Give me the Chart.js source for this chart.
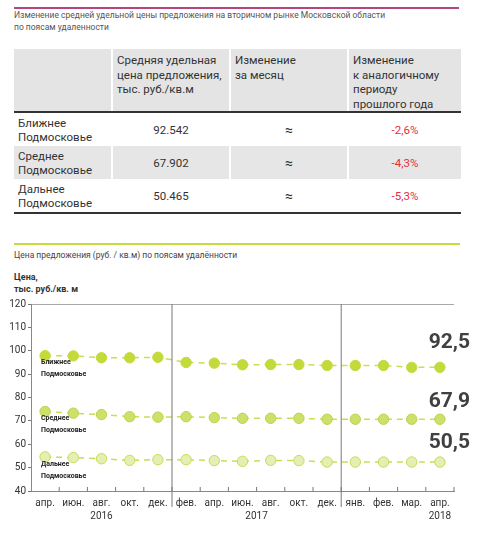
<!DOCTYPE html>
<html>
<head>
<meta charset="utf-8">
<script src="https://cdn.jsdelivr.net/npm/chart.js@4"></script>
<style>
  body { margin:0; width:479px; height:535px; background:#fff; font-family:Roboto, "Noto Sans", sans-serif; position:relative; overflow:hidden; }
  .abs { position:absolute; }
  #topline { left:14px; top:7px; width:445px; height:2px; background:#b5457f; }
  #title { left:14px; top:9px; font-size:8.5px; line-height:12px; color:#555; }
  table { position:absolute; left:14px; top:49px; width:447px; border-collapse:collapse; font-size:11.5px; color:#333; }
  th { background:#e4e4e4; font-weight:normal; text-align:left; vertical-align:top; padding:4px 4px 0 4px; height:57px; line-height:14.5px; border-left:2px solid #fff; border-bottom:2px solid #333; }
  th:first-child { border-left:none; }
  td { height:33px; padding:0 4px; line-height:14px; text-align:center; border-left:2px solid #fff; }
  td:first-child { text-align:left; border-left:none; }
  td.approx { font-size:14px; }
  tr.g td { background:#e6e6e6; }
  tr.last td { border-bottom:2px solid #333; }
  .red { color:#e0303e; }
  #greenline { left:14px; top:243px; width:446px; height:2px; background:#c6dc3c; }
  #sub { left:14px; top:250px; font-size:8.5px; color:#444; }
  #ylab { left:14px; top:271px; font-size:9px; line-height:12px; font-weight:bold; color:#333; }
  #wrap { position:absolute; left:0; top:296px; width:479px; height:239px; }
</style>
</head>
<body>
<div class="abs" id="topline"></div>
<div class="abs" id="title">Изменение средней удельной цены предложения на вторичном рынке Московской области<br>по поясам удаленности</div>
<table>
  <tr><th style="width:89px"></th><th style="width:108px">Средняя удельная<br>цена предложения,<br>тыс. руб./кв.м</th><th style="width:108px">Изменение<br>за месяц</th><th>Изменение<br>к аналогичному<br>периоду<br>прошлого года</th></tr>
  <tr><td>Ближнее<br>Подмосковье</td><td>92.542</td><td class="approx">≈</td><td class="red">-2,6%</td></tr>
  <tr class="g"><td>Среднее<br>Подмосковье</td><td>67.902</td><td class="approx">≈</td><td class="red">-4,3%</td></tr>
  <tr class="last"><td>Дальнее<br>Подмосковье</td><td>50.465</td><td class="approx">≈</td><td class="red">-5,3%</td></tr>
</table>
<div class="abs" id="greenline"></div>
<div class="abs" id="sub">Цена предложения (руб. / кв.м) по поясам удалённости</div>
<div class="abs" id="ylab">Цена,<br>тыс. руб./кв. м</div>
<div id="wrap"><canvas id="chart"></canvas></div>
<script>
// months, Apr 2016 .. Apr 2018
var months = ["апр.","июн.","авг.","окт.","дек.","фев.","апр.","июн.","авг.","окт.","дек.","янв.","фев.","мар.","апр."];
var years = [["2016", 2], ["2017", 7.5], ["2018", 14]];
var yearBreaks = [4.5, 10.5];

var nearVals = [97.9, 97.8, 97.0, 97.0, 97.2, 95.0, 94.7, 94.0, 94.1, 94.1, 93.7, 93.7, 93.7, 92.9, 92.9];
var midVals  = [74.0, 73.3, 72.7, 71.8, 71.6, 71.8, 71.4, 71.1, 71.1, 71.1, 70.7, 70.7, 70.7, 70.7, 70.7];
var farVals  = [54.6, 54.3, 53.8, 53.1, 53.4, 53.4, 53.0, 52.7, 53.1, 53.0, 52.4, 52.4, 52.4, 52.4, 52.4];

var zoneNames = [["Ближнее", "Подмосковье"], ["Среднее", "Подмосковье"], ["Дальнее", "Подмосковье"]];
var lastLabels = ["92,5", "67,9", "50,5"];

var decor = {
  id: 'decor',
  afterDraw: function(chart) {
    var c = chart.ctx, xs = chart.scales.x, ys = chart.scales.y, a = chart.chartArea;
    c.save();
    // small inner ticks on the x axis
    c.strokeStyle = '#777'; c.lineWidth = 1;
    for (var i = 0; i < months.length; i++) {
      var px = (xs.getPixelForValue(i) + xs.getPixelForValue(i + 1)) / 2;
      c.beginPath(); c.moveTo(px, a.bottom); c.lineTo(px, a.bottom - 4); c.stroke();
    }
    // year separators
    yearBreaks.forEach(function(b) {
      var px = (xs.getPixelForValue(Math.floor(b)) + xs.getPixelForValue(Math.ceil(b))) / 2;
      c.beginPath(); c.moveTo(px, a.top); c.lineTo(px, a.bottom + 16); c.stroke();
    });
    // years
    c.fillStyle = '#333'; c.font = '10px Roboto'; c.textAlign = 'center'; c.textBaseline = 'middle';
    years.forEach(function(y) { c.fillText(y[0], xs.getPixelForValue(y[1]), a.bottom + 25); });
    // zone names
    c.font = 'bold 7px Roboto'; c.textAlign = 'left'; c.fillStyle = '#222';
    var firsts = [nearVals[0], midVals[0], farVals[0]];
    firsts.forEach(function(v, k) {
      var py = ys.getPixelForValue(v);
      c.fillText(zoneNames[k][0], a.left + 10, py + 7);
      c.fillText(zoneNames[k][1], a.left + 10, py + 19);
    });
    // last values
    c.font = 'bold 21px Roboto'; c.textAlign = 'right'; c.fillStyle = '#404040';
    var lasts = [nearVals[14], midVals[14], farVals[14]];
    var offs = [-25, -17, -19];
    lasts.forEach(function(v, k) {
      c.fillText(lastLabels[k], 470, ys.getPixelForValue(v) + offs[k]);
    });
    c.restore();
  }
};

function series(vals, fill, border) {
  return {
    data: vals,
    borderColor: '#c9dd55',
    borderWidth: 1.5,
    borderDash: [6, 5],
    pointRadius: 5.2,
    pointBackgroundColor: fill,
    pointBorderColor: border,
    pointBorderWidth: 1,
    tension: 0
  };
}

new Chart(document.getElementById('chart'), {
  type: 'line',
  data: {
    labels: months,
    datasets: [
      series(nearVals, '#c4da3b', '#c4da3b'),
      series(midVals, '#cde06a', '#bcd24a'),
      series(farVals, '#e4efb2', '#c6db5a')
    ]
  },
  options: {
    responsive: true,
    maintainAspectRatio: false,
    animation: false,
    layout: { padding: { top: 8, right: 25, left: 0, bottom: 0 } },
    plugins: { legend: { display: false }, tooltip: { enabled: false } },
    scales: {
      x: {
        offset: true,
        grid: { display: true, drawOnChartArea: false, drawTicks: false },
        border: { display: true, color: '#888', width: 1 },
        ticks: { color: '#333', font: { size: 10, family: 'Roboto' }, padding: 6, maxRotation: 0, autoSkip: false },
        afterFit: function(s) { s.height = 44; }
      },
      y: {
        min: 40, max: 120,
        ticks: { stepSize: 10, color: '#333', font: { size: 10, family: 'Roboto' }, padding: 2 },
        grid: {
          color: function(ctx) { return ctx.tick && ctx.tick.value === 120 ? '#aaa' : 'transparent'; },
          tickColor: '#777', tickLength: 3
        },
        border: { display: true, color: '#888', width: 1 },
        afterFit: function(s) { s.width = 31; }
      }
    }
  },
  plugins: [decor]
});
</script>
</body>
</html>
